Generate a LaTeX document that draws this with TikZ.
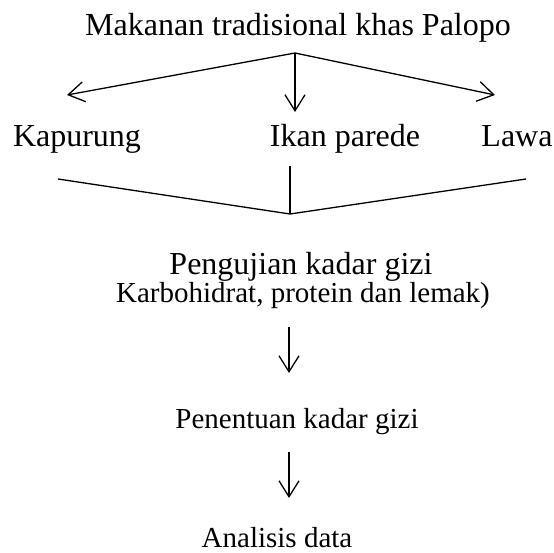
\documentclass[tikz,border=0pt]{standalone}
\usepackage{fontspec}
\setmainfont{Liberation Serif}
\usetikzlibrary{arrows.meta}
\tikzset{
  txt/.style={anchor=base, inner sep=0pt, font=\fontsize{32}{38}\selectfont},
  kecil/.style={txt, font=\fontsize{29}{35}\selectfont},
  barb/.style={-{Straight Barb[length=16pt,width=20pt]}},
}
\begin{document}
\begin{tikzpicture}[x=1pt, y=-1pt, line width=1.3pt]
  \useasboundingbox (0,0) rectangle (554,552);
  % Top: the food and its three kinds
  \node[txt] (makanan) at (298,35) {Makanan tradisional khas Palopo};
  \coordinate (pusat) at (295,53);
  \coordinate (tkapurung) at (67,95);
  \coordinate (tikan) at (295,112);
  \coordinate (tlawa) at (495,95);
  \draw[barb] (pusat) -- (tkapurung);
  \draw[barb] (pusat) -- (tikan);
  \draw[barb] (pusat) -- (tlawa);

  \node[txt] (kapurung) at (77,146) {Kapurung};
  \node[txt] (ikan) at (345,146) {Ikan parede};
  \node[txt] (lawa) at (517,146) {Lawa};

  % Joining the three samples
  \coordinate (kiri) at (58,179);
  \coordinate (tengah) at (290,166);
  \coordinate (bawah) at (290,214);
  \coordinate (kanan) at (526,179);
  \draw (kiri) -- (bawah) -- (kanan);
  \draw (tengah) -- (bawah);

  % Testing and analysis
  \node[txt] (uji) at (301,274) {Pengujian kadar gizi};
  \node[kecil] (zat) at (303,302) {Karbohidrat, protein dan lemak)};
  \node[kecil] (penentuan) at (297,428) {Penentuan kadar gizi};
  \node[kecil] (analisis) at (277,547) {Analisis data};

  \coordinate (a1) at (289,327);
  \coordinate (b1) at (289,373);
  \coordinate (a2) at (289,452);
  \coordinate (b2) at (289,498);
  \draw[barb] (a1) -- (b1);
  \draw[barb] (a2) -- (b2);
\end{tikzpicture}
\end{document}
